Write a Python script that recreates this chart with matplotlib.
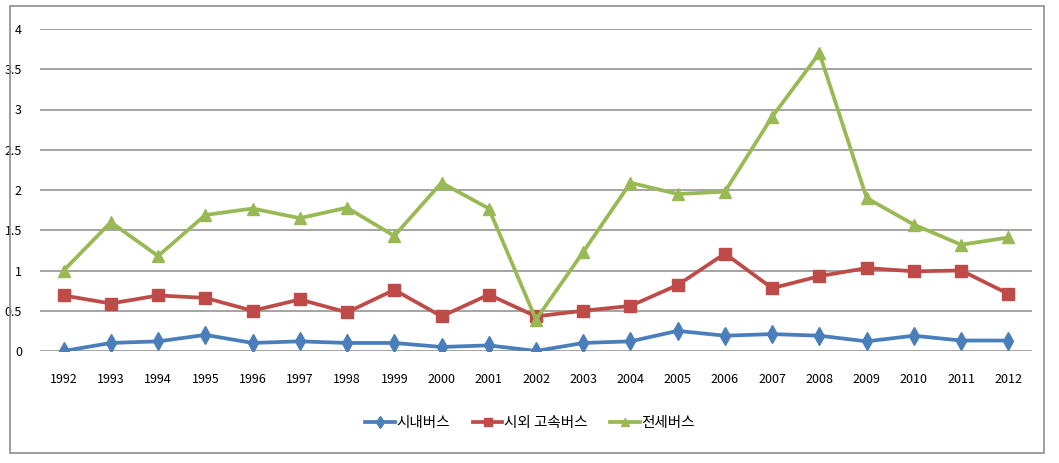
import matplotlib.pyplot as plt
import numpy as np
from matplotlib.patches import Rectangle

years = [str(y) for y in range(1992, 2013)]
city_bus = [0.0, 0.10, 0.12, 0.20, 0.10, 0.12, 0.10, 0.10, 0.05, 0.07, 0.0,
            0.10, 0.12, 0.25, 0.19, 0.21, 0.19, 0.12, 0.19, 0.13, 0.13]
intercity_bus = [0.69, 0.59, 0.69, 0.66, 0.50, 0.64, 0.48, 0.76, 0.43, 0.70, 0.43,
                 0.50, 0.56, 0.82, 1.21, 0.78, 0.93, 1.03, 0.99, 1.00, 0.71]
charter_bus = [1.00, 1.60, 1.18, 1.69, 1.77, 1.65, 1.78, 1.43, 2.09, 1.77, 0.39,
               1.23, 2.09, 1.95, 1.98, 2.91, 3.70, 1.90, 1.57, 1.32, 1.41]
labels = ['시내버스', '시외 고속버스', '전세버스']

plt.rcParams['font.family'] = ['Noto Sans CJK KR', 'DejaVu Sans']

fig = plt.figure(figsize=(10.59, 4.63), dpi=100)
fig.patches.append(Rectangle((10 / 1059, 1 - 453 / 463), 1034 / 1059, 447 / 463,
                             transform=fig.transFigure, fill=False,
                             edgecolor='#8c8c8c', lw=1.2))
ax = fig.add_axes([40 / 1059, 1 - 351 / 463, 992 / 1059, 322 / 463])

x = np.arange(len(years))
ax.plot(x, city_bus, color='#4a7ebb', lw=2.7, marker='d', ms=9, label=labels[0])
ax.plot(x, intercity_bus, color='#be4b48', lw=2.7, marker='s', ms=8, label=labels[1])
ax.plot(x, charter_bus, color='#98b954', lw=2.7, marker='^', ms=9, label=labels[2])

ax.set_xlim(-0.5, len(years) - 0.5)
ax.set_ylim(0, 4)
ax.set_yticks(np.arange(0, 4.01, 0.5))
ax.set_yticklabels(['0', '0.5', '1', '1.5', '2', '2.5', '3', '3.5', '4'])
ax.set_xticks(x)
ax.set_xticklabels(years)
ax.yaxis.grid(True, color='#8c8c8c', lw=1.1)
ax.set_axisbelow(True)
for s in ax.spines.values():
    s.set_visible(False)
ax.tick_params(length=0, labelsize=9)
ax.tick_params(axis='x', pad=16)
ax.tick_params(axis='y', pad=13)

leg = fig.legend(loc='center', bbox_to_anchor=(530 / 1059, 1 - 423 / 463), ncol=3,
                 frameon=False, handlelength=2.0, columnspacing=1.6,
                 handletextpad=0.1, markerscale=0.7,
                 prop={'family': ['Noto Sans CJK KR', 'DejaVu Sans'], 'size': 10.5})

fig.savefig('out.png', dpi=100)
